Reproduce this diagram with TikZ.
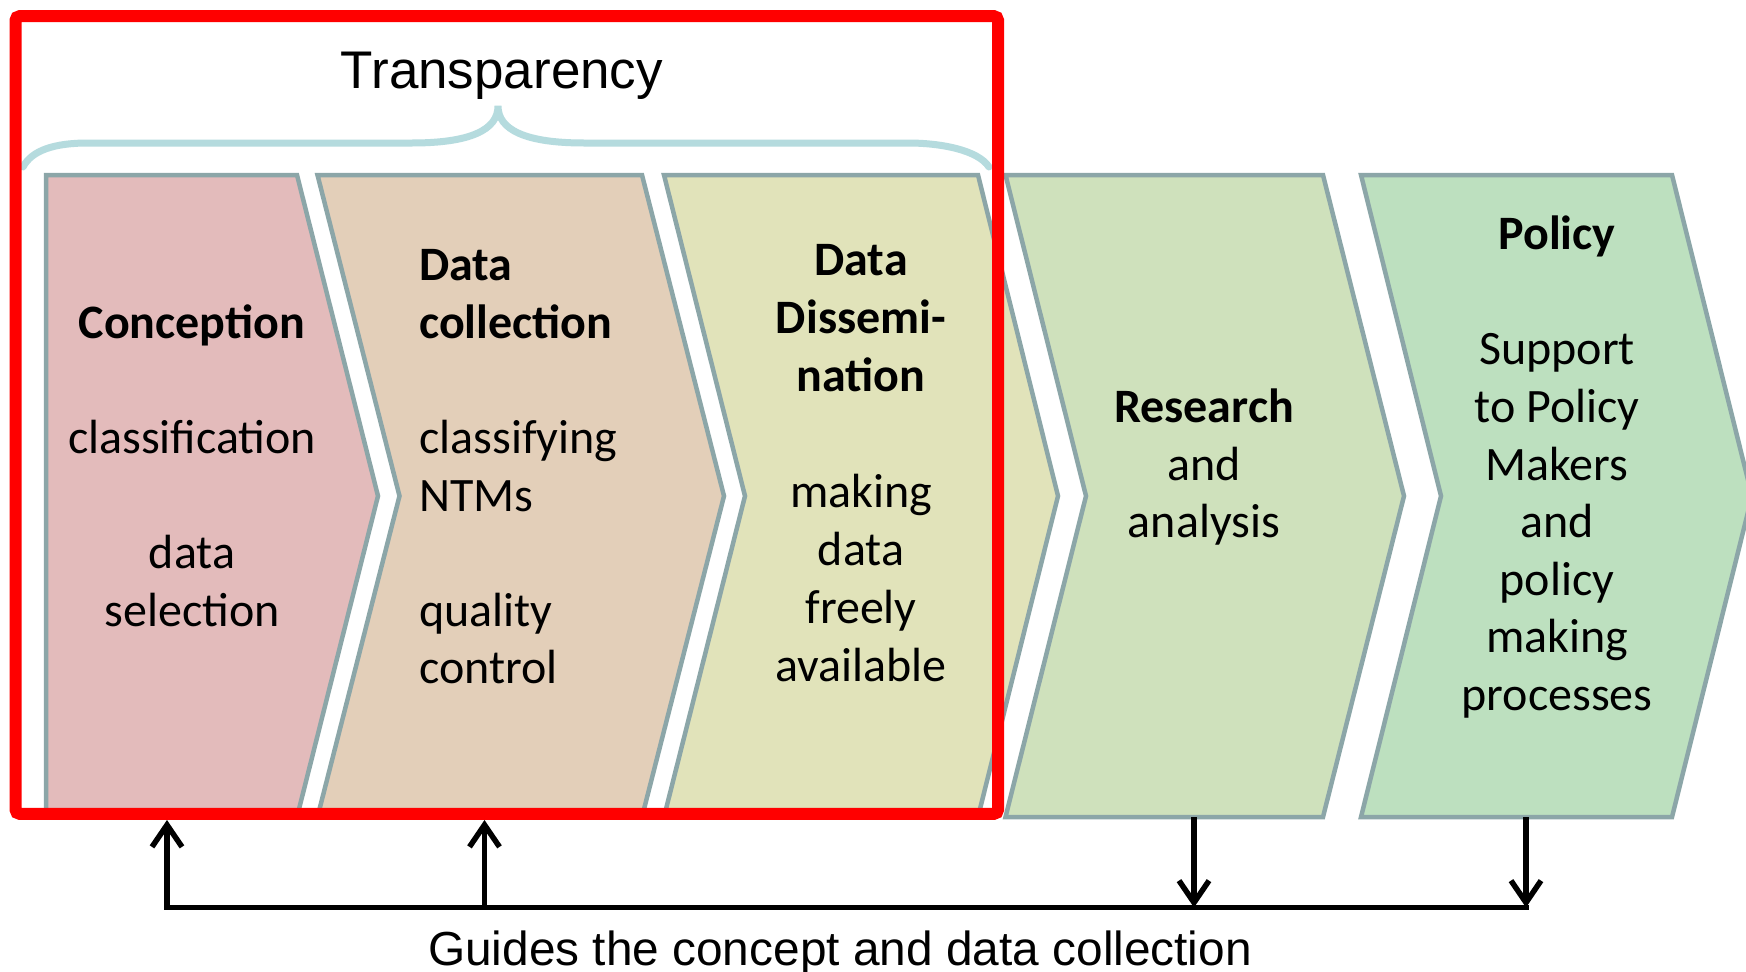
\documentclass[tikz,border=0pt]{standalone}
\usepackage{fontspec}
\setmainfont{Carlito}
\newfontfamily\arialf{Liberation Sans}
\usetikzlibrary{arrows.meta}
\definecolor{cA}{HTML}{E3BBBB}
\definecolor{cB}{HTML}{E3CFB9}
\definecolor{cC}{HTML}{E1E3BA}
\definecolor{cD}{HTML}{CFE1BC}
\definecolor{cE}{HTML}{BDE0BF}
\definecolor{bord}{HTML}{8CA6A8}
\definecolor{bracec}{HTML}{B5DBDE}
\definecolor{redbox}{HTML}{FF0000}
\newcommand\chfont{\fontsize{48}{57.6}\selectfont}
\newcommand\chfontB{\fontsize{48}{58.1}\selectfont}
\begin{document}
\begin{tikzpicture}[x=1pt,y=-1pt,
  chev/.style={draw=bord, line width=4.5pt, line join=miter},
  txt/.style={inner sep=0pt, font=\chfont},
  conn/.style={line width=5.5pt, black},
  arr/.style={conn, -{Straight Barb[length=22pt,width=30pt]}}]
\useasboundingbox (0,0) rectangle (1746,972);
\fill[white] (0,0) rectangle (1746,972);
% chevrons
\filldraw[chev, fill=cA] (46,175) -- (297,175) -- (378,496) -- (297,817) -- (46,817) -- cycle;
\filldraw[chev, fill=cB] (317.5,175) -- (642,175) -- (724,496) -- (642,817) -- (317.5,817) -- (399.5,496) -- cycle;
\filldraw[chev, fill=cC] (664,175) -- (978,175) -- (1058,496) -- (978,817) -- (664,817) -- (745,496) -- cycle;
\filldraw[chev, fill=cD] (1005.5,175) -- (1323,175) -- (1404,496) -- (1323,817) -- (1005.5,817) -- (1086,496) -- cycle;
\filldraw[chev, fill=cE] (1361,175) -- (1672,175) -- (1752,496) -- (1672,817) -- (1361,817) -- (1441,496) -- cycle;
% brace
\draw[bracec, line width=7pt, line cap=round]
  (23,167) .. controls (32,150) and (55,143) .. (88,143) -- (412,143)
  .. controls (470,143) and (498,130) .. (498,106)
  .. controls (498,130) and (526,143) .. (584,143) -- (908,143)
  .. controls (941,143) and (978,150) .. (989,167);
% red frame
\draw[redbox, line width=12pt, rounded corners=4pt] (15.6,16.2) rectangle (998,813.8);
% texts
\node[font=\arialf\fontsize{53}{60}\selectfont, anchor=base, inner sep=0pt] (title) at (502,88.3) {Transparency};
\node[txt, anchor=base] (t1) at (192,338.3) {\begin{tabular}[t]{@{}c@{}}\textbf{Conception}\\ \\ classification\\ \\ data\\ selection\end{tabular}};
\node[txt, anchor=base west] (t2) at (419,280.7) {\begin{tabular}[t]{@{}l@{}}\textbf{Data}\\ \textbf{collection}\\ \\ classifying\\ NTMs\\ \\ quality\\ control\end{tabular}};
\node[txt, font=\chfontB, anchor=base] (t3) at (861,275) {\begin{tabular}[t]{@{}c@{}}\textbf{Data}\\ \textbf{Dissemi-}\\ \textbf{nation}\\ \\ making\\ data\\ freely\\ available\end{tabular}};
\node[txt, anchor=base] (t4) at (1204,422.6) {\begin{tabular}[t]{@{}c@{}}\textbf{Research}\\ and\\ analysis\end{tabular}};
\node[txt, anchor=base] (t5) at (1557,249.6) {\begin{tabular}[t]{@{}c@{}}\textbf{Policy}\\ \\ Support\\ to Policy\\ Makers\\ and\\ policy\\ making\\ processes\end{tabular}};
\node[font=\arialf\fontsize{47.8}{55}\selectfont, anchor=base, inner sep=0pt] (cap) at (840,965) {Guides the concept and data collection};
% connectors
\coordinate (up1) at (167,820);
\coordinate (up2) at (484.5,820);
\coordinate (dn1) at (1194,817);
\coordinate (dn2) at (1526,817);
\coordinate (h1) at (167,907.5);
\coordinate (h2) at (484.5,907.5);
\coordinate (h3) at (1194,907.5);
\coordinate (h4) at (1526,907.5);
\draw[conn, line cap=rect] (h1) -- (h4);
\draw[arr] (h1) -- (up1);
\draw[arr] (h2) -- (up2);
\draw[arr] (dn1) -- (h3);
\draw[arr] (dn2) -- (h4);
\end{tikzpicture}
\end{document}
